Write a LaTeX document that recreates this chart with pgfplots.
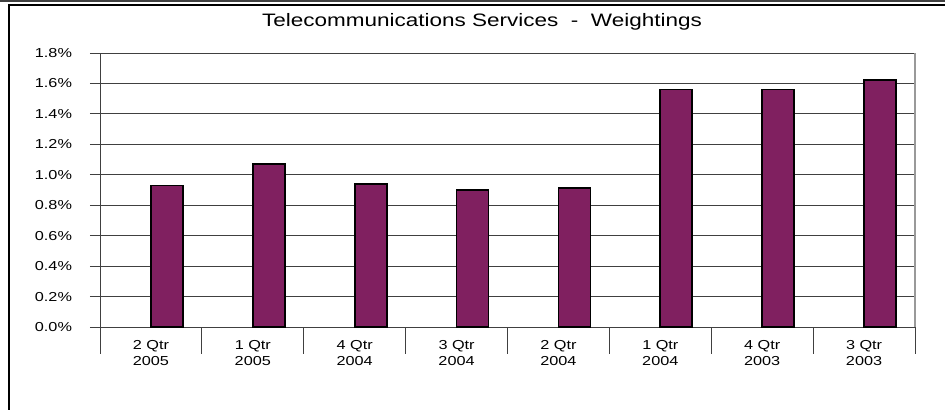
\documentclass[border=0pt]{standalone}
\usepackage{fontspec}
\setmainfont{Liberation Sans}[FakeStretch=1.25]
\usepackage{pgfplots}
\pgfplotsset{compat=1.18}
\definecolor{plum}{RGB}{128,32,96}
\definecolor{gridc}{RGB}{64,64,64}

\begin{document}
\begin{tikzpicture}[x=0.75pt,y=-0.75pt]
\useasboundingbox (0,0) rectangle (945,410);
% outer frame
\fill[black!75] (0,0) rectangle (945,2.5);
\draw[line width=1.9pt] (9,410) -- (9,5) -- (945,5);
\node[font=\fontsize{13.5}{16}\selectfont, anchor=base] at (482,27)
  {Telecommunications Services~~-~~Weightings};

\begin{axis}[
    at={(75pt,-245.25pt)}, anchor=south west,
    scale only axis,
    width=611.25pt, height=205.5pt,
    xmin=0, xmax=8, ymin=0, ymax=1.8,
    axis lines*=left,
    axis line style={gridc, line width=0.75pt},
    ybar, bar width=24pt, bar shift=12pt,
    xtick=data,
    xticklabels={2 Qtr\\2005, 1 Qtr\\2005, 4 Qtr\\2004, 3 Qtr\\2004,
                 2 Qtr\\2004, 1 Qtr\\2004, 4 Qtr\\2003, 3 Qtr\\2003},
    xticklabel style={align=center, font=\fontsize{9.75}{12}\selectfont, yshift=1pt},
    xtick style={draw=none},
    ytick={0,0.2,0.4,0.6,0.8,1.0,1.2,1.4,1.6,1.8},
    yticklabels={0.0\%,0.2\%,0.4\%,0.6\%,0.8\%,1.0\%,1.2\%,1.4\%,1.6\%,1.8\%},
    yticklabel style={font=\fontsize{9.75}{11}\selectfont, xshift=-10pt},
    ytick style={gridc, line width=0.75pt},
    tick align=outside,
    major tick length=7.5pt,
    ymajorgrids,
    grid style={gridc, line width=0.75pt},
    clip=false,
]
\addplot[fill=plum, draw=black, line width=1.4pt] coordinates {
    (0.5,0.93) (1.5,1.07) (2.5,0.94) (3.5,0.90)
    (4.5,0.915) (5.5,1.56) (6.5,1.56) (7.5,1.62)
};
\draw[black!40, line width=1.1pt] (axis cs:8,0) -- (axis cs:8,1.8);
\pgfplotsinvokeforeach{0,...,8}{
    \draw[gridc, line width=0.75pt] (axis cs:#1,0) -- ([yshift=-20.25pt]axis cs:#1,0);
}
\end{axis}
\end{tikzpicture}
\end{document}
